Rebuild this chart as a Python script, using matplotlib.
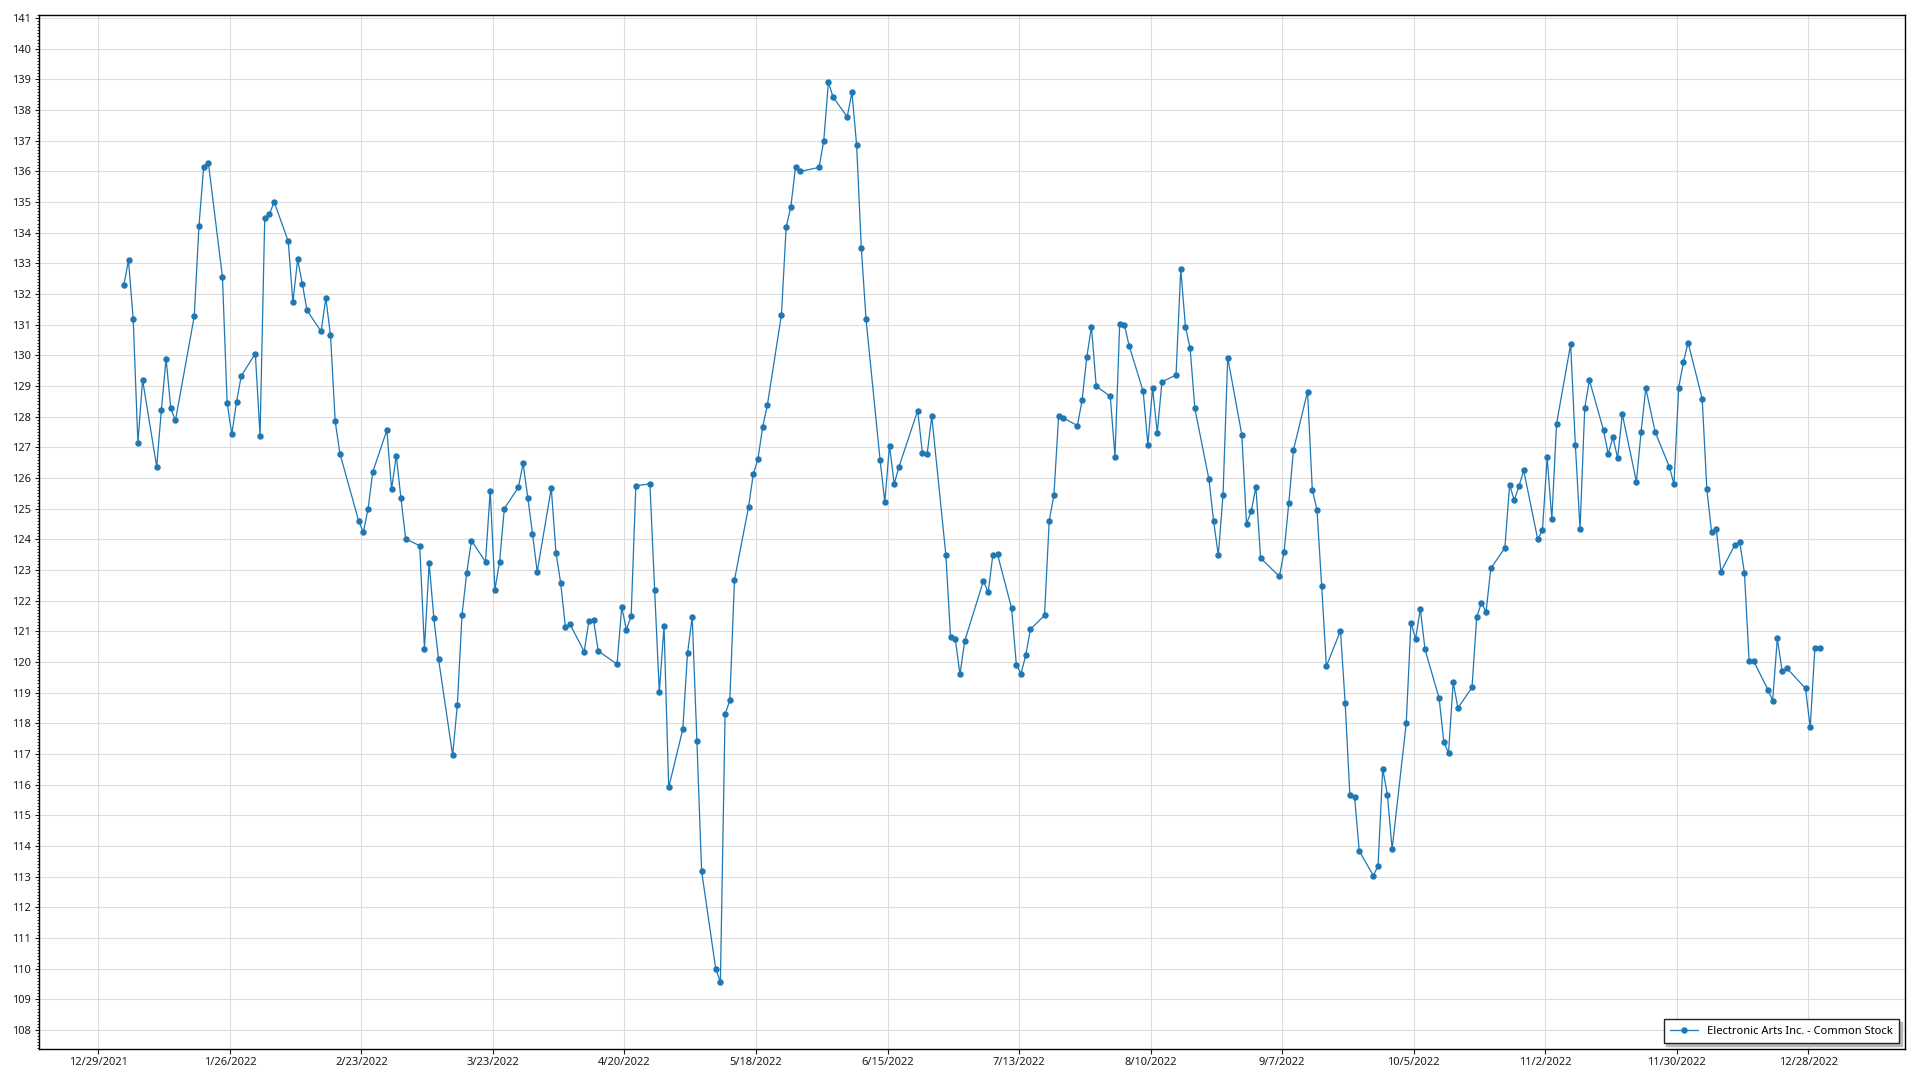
import numpy as np
import pandas as pd
import matplotlib
matplotlib.use("Agg")
import matplotlib.pyplot as plt
import matplotlib.dates as mdates
from matplotlib.ticker import MultipleLocator

# trading days of 2022 (weekdays minus exchange holidays)
holidays = ["2022-01-17", "2022-02-21", "2022-04-15", "2022-05-30", "2022-06-20",
            "2022-07-04", "2022-09-05", "2022-11-24", "2022-12-26"]

# closing prices, month by month
jan = [132.29, 133.10, 131.18, 127.14, 129.20, 126.37, 128.23, 129.89, 128.27, 127.88,
       131.28, 134.22, 136.15, 136.28, 132.55, 128.44, 127.43, 128.49, 129.33, 130.06]
feb = [127.38, 134.48, 134.60, 135.01, 133.72, 131.73, 133.13, 132.34, 131.47, 130.78,
       131.87, 130.67, 127.85, 126.80, 124.60, 124.23, 125.00, 126.20, 127.56]
mar = [125.64, 126.73, 125.34, 124.02, 123.79, 120.44, 123.23, 121.43, 120.10, 116.96,
       118.59, 121.54, 122.90, 123.96, 123.27, 125.59, 122.36, 123.27, 125.00, 125.70,
       126.48, 125.36, 124.19]
apr = [122.94, 125.67, 123.56, 122.58, 121.15, 121.23, 120.34, 121.33, 121.36, 120.36,
       119.93, 121.78, 121.06, 121.49, 125.75, 125.81, 122.36, 119.01, 121.18, 115.91]
may = [117.81, 120.28, 121.47, 117.42, 113.19, 110.00, 109.57, 118.29, 118.75, 122.68,
       125.06, 126.13, 126.62, 127.67, 128.38, 131.33, 134.18, 134.85, 136.15, 136.00,
       136.13]
jun = [136.99, 138.91, 138.42, 137.78, 138.58, 136.86, 133.51, 131.18, 126.58, 125.22,
       127.06, 125.81, 126.36, 128.20, 126.83, 126.77, 128.01, 123.49, 120.81, 120.76,
       119.60]
jul = [120.68, 122.65, 122.27, 123.49, 123.51, 121.75, 119.91, 119.62, 120.22, 121.07,
       121.52, 124.61, 125.44, 128.01, 127.96, 127.71, 128.54, 129.95, 130.93, 129.00]
aug = [128.66, 126.70, 131.03, 131.00, 130.32, 128.83, 127.08, 128.94, 127.48, 129.14,
       129.36, 132.82, 130.93, 130.23, 128.27, 125.96, 124.59, 123.48, 125.45, 129.93,
       127.41, 124.51, 124.91]
sep = [125.71, 123.39, 122.79, 123.60, 125.18, 126.92, 128.82, 125.62, 124.97, 122.48,
       119.86, 121.02, 118.66, 115.67, 115.60, 113.84, 113.03, 113.35, 116.52, 115.65,
       113.90]
oct_ = [118.00, 121.28, 120.76, 121.74, 120.41, 118.82, 117.40, 117.03, 119.34, 118.50,
        119.17, 121.46, 121.93, 121.64, 123.05, 123.72, 125.77, 125.28, 125.73, 126.25,
        124.00]
nov = [124.30, 126.67, 124.66, 127.77, 130.36, 127.09, 124.33, 128.29, 129.19, 127.56,
       126.78, 127.33, 126.65, 128.08, 125.88, 127.51, 128.93, 127.50, 126.37, 125.80,
       128.95]
dec = [129.77, 130.42, 128.59, 125.63, 124.24, 124.34, 122.95, 123.83, 123.91, 122.90,
       120.02, 120.02, 119.10, 118.74, 120.77, 119.72, 119.80, 119.14, 117.87, 120.47,
       120.47]

series_name = "Electronic Arts Inc. - Common Stock"
tick_labels = ["12/29/2021", "1/26/2022", "2/23/2022", "3/23/2022", "4/20/2022",
               "5/18/2022", "6/15/2022", "7/13/2022", "8/10/2022", "9/7/2022",
               "10/5/2022", "11/2/2022", "11/30/2022", "12/28/2022"]

days = pd.bdate_range("2022-01-03", "2022-12-30")
days = days[~days.isin(pd.to_datetime(holidays))]
# the source stamps each close a few hours into the day
days = days + pd.Timedelta(hours=10)
prices = jan + feb + mar + apr + may + jun + jul + aug + sep + oct_ + nov + dec

plt.rcParams['font.family'] = ['Noto Sans', 'DejaVu Sans']

fig = plt.figure(figsize=(19.2, 10.8), dpi=100)
ax = fig.add_axes([0.0205, 0.0287, 0.9717, 0.9574])

ax.plot(days, prices, color='#1f77b4', lw=0.9, marker='o', markersize=3.6,
        label=series_name, zorder=3)

tick_dates = pd.to_datetime(tick_labels, format="%m/%d/%Y")
ax.set_xticks(mdates.date2num(tick_dates))
ax.set_xticklabels(tick_labels)
x0 = mdates.date2num(pd.Timestamp("2021-12-29")) - 12.56
x1 = mdates.date2num(pd.Timestamp("2022-12-28")) + 20.6
ax.set_xlim(x0, x1)

ax.set_ylim(107.38, 141.1)
ax.yaxis.set_major_locator(MultipleLocator(1))
ax.yaxis.set_minor_locator(MultipleLocator(0.1))

ax.grid(True, which='major', color='#dddddd', lw=0.8, zorder=0)
ax.set_axisbelow(True)
for s in ax.spines.values():
    s.set_color('black')
    s.set_linewidth(1.0)

ax.tick_params(axis='y', which='major', length=3.2, width=0.8, pad=3, labelsize=8, colors='#1a1a1a')
ax.tick_params(axis='y', which='minor', length=1.8, width=0.6)
ax.tick_params(axis='x', which='major', length=3.5, width=0.8, pad=2.5, labelsize=8, colors='#1a1a1a')

leg = ax.legend(loc='lower right', fontsize=8, fancybox=False, frameon=True,
                edgecolor='#222222', framealpha=1, borderaxespad=0.5,
                handlelength=2.5, borderpad=0.6,
                shadow={'color': '#b8b8b8', 'alpha': 1})
leg.get_frame().set_linewidth(1.0)

fig.savefig("out.png", dpi=100, facecolor='white')
